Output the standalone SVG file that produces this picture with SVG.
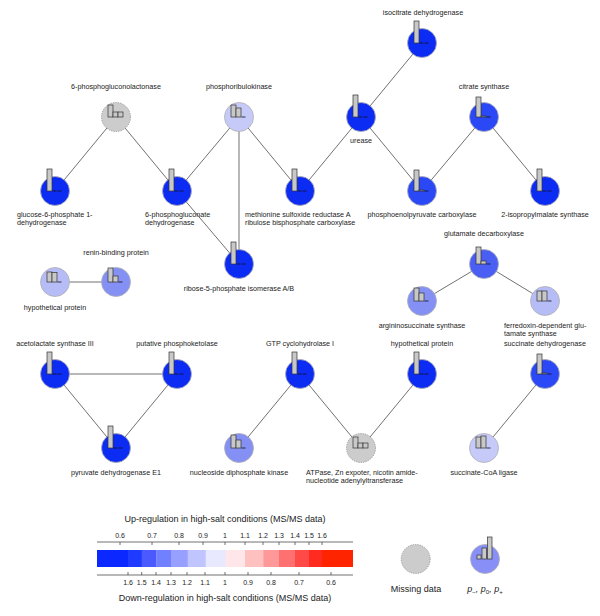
<svg xmlns="http://www.w3.org/2000/svg" width="600" height="616" viewBox="0 0 600 616">
<style>
text{font-family:"Liberation Sans",Arial,sans-serif;fill:#222}
.lb{font-size:7.2px}
.c{text-anchor:middle}
.edge{stroke:#333;stroke-width:0.7;fill:none}
.nd{stroke:#b0b0b0;stroke-width:0.8}
.deep{fill:#0c2cf4}
.d2{fill:#2a48f6}
.d3{fill:#4a5ef4}
.med{fill:#8590f5}
.lt{fill:#c6caf8}
.lt2{fill:#b6bcf6}
.miss{fill:#cccccc;stroke:#8a8a8a;stroke-width:0.8;stroke-dasharray:1.2 1.2}
.bar{fill:#c8c8c8;stroke:#333;stroke-width:0.7}
.z{stroke:#111;stroke-width:0.8}
.tick{stroke:#333;stroke-width:0.7}
.tl{font-size:7px;text-anchor:middle}
.lg{font-size:9px;text-anchor:middle}
</style>
<g id="connectors">
<line class="edge" x1="116" y1="117" x2="55" y2="191"/>
<line class="edge" x1="116" y1="117" x2="177" y2="191"/>
<line class="edge" x1="239" y1="117" x2="177" y2="191"/>
<line class="edge" x1="239" y1="117" x2="300" y2="191"/>
<line class="edge" x1="239" y1="117" x2="239" y2="264"/>
<line class="edge" x1="177" y1="191" x2="239" y2="264"/>
<line class="edge" x1="300" y1="191" x2="361" y2="117"/>
<line class="edge" x1="361" y1="117" x2="422" y2="43"/>
<line class="edge" x1="361" y1="117" x2="422" y2="191"/>
<line class="edge" x1="422" y1="191" x2="484" y2="117"/>
<line class="edge" x1="484" y1="117" x2="545" y2="191"/>
<line class="edge" x1="55" y1="282" x2="116" y2="282"/>
<line class="edge" x1="484" y1="264" x2="422" y2="301"/>
<line class="edge" x1="484" y1="264" x2="545" y2="301"/>
<line class="edge" x1="55" y1="374" x2="177" y2="374"/>
<line class="edge" x1="55" y1="374" x2="116" y2="448"/>
<line class="edge" x1="177" y1="374" x2="116" y2="448"/>
<line class="edge" x1="300" y1="374" x2="239" y2="448"/>
<line class="edge" x1="300" y1="374" x2="361" y2="448"/>
<line class="edge" x1="422" y1="374" x2="361" y2="448"/>
<line class="edge" x1="545" y1="374" x2="484" y2="448"/>
</g>

<g id="n_icd">
<circle class="nd deep" cx="422" cy="43" r="14.5"/>
<rect class="bar" x="414" y="21" width="5" height="22"/>
<line class="z" x1="419.5" y1="43" x2="423.5" y2="43"/><line class="z" x1="424.5" y1="43" x2="428.5" y2="43"/>
<text class="lb c" x="423" y="14.5">isocitrate dehydrogenase</text>
</g>

<g id="n_6pgl">
<circle class="miss" cx="116" cy="117" r="14.5"/>
<rect class="bar" x="108" y="105" width="5" height="12"/>
<rect class="bar" x="113" y="112" width="5" height="5"/>
<rect class="bar" x="118" y="112" width="5" height="5"/>
<text class="lb c" x="116" y="88.5">6-phosphogluconolactonase</text>
</g>

<g id="n_prk">
<circle class="nd lt" cx="239" cy="117" r="14.5"/>
<rect class="bar" x="231" y="105" width="5" height="12"/>
<rect class="bar" x="236" y="108" width="5" height="9"/>
<line class="z" x1="241.5" y1="117" x2="245.5" y2="117"/>
<text class="lb c" x="239" y="88.5">phosphoribulokinase</text>
</g>

<g id="n_urease">
<circle class="nd deep" cx="361" cy="117" r="14.5"/>
<rect class="bar" x="353" y="95" width="5" height="22"/>
<line class="z" x1="358.5" y1="117" x2="362.5" y2="117"/><line class="z" x1="363.5" y1="117" x2="367.5" y2="117"/>
<text class="lb c" x="361" y="142.5">urease</text>
</g>

<g id="n_cs">
<circle class="nd d2" cx="484" cy="117" r="14.5"/>
<rect class="bar" x="476" y="97" width="5" height="20"/>
<rect class="bar" x="481" y="116" width="5" height="1"/>
<line class="z" x1="486.5" y1="117" x2="490.5" y2="117"/>
<text class="lb c" x="484" y="88.5">citrate synthase</text>
</g>

<g id="n_g6pd">
<circle class="nd deep" cx="55" cy="191" r="14.5"/>
<rect class="bar" x="47" y="169" width="5" height="22"/>
<line class="z" x1="52.5" y1="191" x2="56.5" y2="191"/><line class="z" x1="57.5" y1="191" x2="61.5" y2="191"/>
<text class="lb" x="17" y="216.5">glucose-6-phosphate 1-</text>
<text class="lb" x="17" y="224.5">dehydrogenase</text>
</g>

<g id="n_6pgd">
<circle class="nd deep" cx="177" cy="191" r="14.5"/>
<rect class="bar" x="169" y="169" width="5" height="22"/>
<line class="z" x1="174.5" y1="191" x2="178.5" y2="191"/><line class="z" x1="179.5" y1="191" x2="183.5" y2="191"/>
<text class="lb" x="145" y="216.5">6-phosphogluconate</text>
<text class="lb" x="145" y="224.5">dehydrogenase</text>
</g>

<g id="n_msra">
<circle class="nd deep" cx="300" cy="191" r="14.5"/>
<rect class="bar" x="292" y="169" width="5" height="22"/>
<line class="z" x1="297.5" y1="191" x2="301.5" y2="191"/><line class="z" x1="302.5" y1="191" x2="306.5" y2="191"/>
<text class="lb" x="245" y="216.5">methionine sulfoxide reductase A</text>
<text class="lb" x="245" y="224.5">ribulose bisphosphate carboxylase</text>
</g>

<g id="n_pepc">
<circle class="nd d2" cx="422" cy="191" r="14.5"/>
<rect class="bar" x="414" y="170" width="5" height="21"/>
<rect class="bar" x="419" y="190" width="5" height="1"/>
<line class="z" x1="424.5" y1="191" x2="428.5" y2="191"/>
<text class="lb c" x="422" y="216.5">phosphoenolpyruvate carboxylase</text>
</g>

<g id="n_2ipms">
<circle class="nd deep" cx="545" cy="191" r="14.5"/>
<rect class="bar" x="537" y="169" width="5" height="22"/>
<line class="z" x1="542.5" y1="191" x2="546.5" y2="191"/><line class="z" x1="547.5" y1="191" x2="551.5" y2="191"/>
<text class="lb c" x="545" y="216.5">2-isopropylmalate synthase</text>
</g>

<g id="n_gad">
<circle class="nd d3" cx="484" cy="264" r="14.5"/>
<rect class="bar" x="476" y="247" width="5" height="17"/>
<rect class="bar" x="481" y="261" width="5" height="3"/>
<line class="z" x1="486.5" y1="264" x2="490.5" y2="264"/>
<text class="lb c" x="484" y="235.5">glutamate decarboxylase</text>
</g>

<g id="n_r5pi">
<circle class="nd deep" cx="239" cy="264" r="14.5"/>
<rect class="bar" x="231" y="242" width="5" height="22"/>
<line class="z" x1="236.5" y1="264" x2="240.5" y2="264"/><line class="z" x1="241.5" y1="264" x2="245.5" y2="264"/>
<text class="lb c" x="239" y="290.5">ribose-5-phosphate isomerase A/B</text>
</g>

<g id="n_hyp1">
<circle class="nd lt2" cx="55" cy="282" r="14.5"/>
<rect class="bar" x="47" y="272" width="5" height="10"/>
<rect class="bar" x="52" y="272.5" width="5" height="9.5"/>
<line class="z" x1="57.5" y1="282" x2="61.5" y2="282"/>
<text class="lb c" x="55" y="309.5">hypothetical protein</text>
</g>

<g id="n_renin">
<circle class="nd med" cx="116" cy="282" r="14.5"/>
<rect class="bar" x="108" y="268" width="5" height="14"/>
<rect class="bar" x="113" y="276" width="5" height="6"/>
<line class="z" x1="118.5" y1="282" x2="122.5" y2="282"/>
<text class="lb c" x="116" y="254.5">renin-binding protein</text>
</g>

<g id="n_ass">
<circle class="nd med" cx="422" cy="301" r="14.5"/>
<rect class="bar" x="414" y="288" width="5" height="13"/>
<rect class="bar" x="419" y="293" width="5" height="8"/>
<line class="z" x1="424.5" y1="301" x2="428.5" y2="301"/>
<text class="lb c" x="422" y="327.5">argininosuccinate synthase</text>
</g>

<g id="n_fd">
<circle class="nd lt2" cx="545" cy="301" r="14.5"/>
<rect class="bar" x="537" y="291" width="5" height="10"/>
<rect class="bar" x="542" y="291" width="5" height="10"/>
<line class="z" x1="547.5" y1="301" x2="551.5" y2="301"/>
<text class="lb" x="504" y="327.5">ferredoxin-dependent glu-</text>
<text class="lb" x="504" y="335.5">tamate synthase</text>
</g>

<g id="n_als">
<circle class="nd deep" cx="55" cy="374" r="14.5"/>
<rect class="bar" x="47" y="352" width="5" height="22"/>
<line class="z" x1="52.5" y1="374" x2="56.5" y2="374"/><line class="z" x1="57.5" y1="374" x2="61.5" y2="374"/>
<text class="lb c" x="55" y="345.5">acetolactate synthase III</text>
</g>

<g id="n_ppk">
<circle class="nd deep" cx="177" cy="374" r="14.5"/>
<rect class="bar" x="169" y="352" width="5" height="22"/>
<line class="z" x1="174.5" y1="374" x2="178.5" y2="374"/><line class="z" x1="179.5" y1="374" x2="183.5" y2="374"/>
<text class="lb c" x="177" y="345.5">putative phosphoketolase</text>
</g>

<g id="n_gtp">
<circle class="nd deep" cx="300" cy="374" r="14.5"/>
<rect class="bar" x="292" y="352" width="5" height="22"/>
<line class="z" x1="297.5" y1="374" x2="301.5" y2="374"/><line class="z" x1="302.5" y1="374" x2="306.5" y2="374"/>
<text class="lb c" x="300" y="345.5">GTP cyclohydrolase I</text>
</g>

<g id="n_hyp2">
<circle class="nd deep" cx="422" cy="374" r="14.5"/>
<rect class="bar" x="414" y="352" width="5" height="22"/>
<line class="z" x1="419.5" y1="374" x2="423.5" y2="374"/><line class="z" x1="424.5" y1="374" x2="428.5" y2="374"/>
<text class="lb c" x="422" y="345.5">hypothetical protein</text>
</g>

<g id="n_sdh">
<circle class="nd d2" cx="545" cy="374" r="14.5"/>
<rect class="bar" x="537" y="354" width="5" height="20"/>
<rect class="bar" x="542" y="373" width="5" height="1"/>
<line class="z" x1="547.5" y1="374" x2="551.5" y2="374"/>
<text class="lb" x="504" y="345.5">succinate dehydrogenase</text>
</g>

<g id="n_pdh">
<circle class="nd deep" cx="116" cy="448" r="14.5"/>
<rect class="bar" x="108" y="426" width="5" height="22"/>
<line class="z" x1="113.5" y1="448" x2="117.5" y2="448"/><line class="z" x1="118.5" y1="448" x2="122.5" y2="448"/>
<text class="lb c" x="116" y="474.5">pyruvate dehydrogenase E1</text>
</g>

<g id="n_ndk">
<circle class="nd med" cx="239" cy="448" r="14.5"/>
<rect class="bar" x="231" y="435" width="5" height="13"/>
<rect class="bar" x="236" y="440" width="5" height="8"/>
<line class="z" x1="241.5" y1="448" x2="245.5" y2="448"/>
<text class="lb c" x="239" y="474.5">nucleoside diphosphate kinase</text>
</g>

<g id="n_atp">
<circle class="miss" cx="361" cy="448" r="14.5"/>
<rect class="bar" x="353" y="437" width="5" height="11"/>
<rect class="bar" x="358" y="443" width="5" height="5"/>
<rect class="bar" x="363" y="443" width="5" height="5"/>
<text class="lb" x="306" y="474.5">ATPase, Zn expoter, nicotin amide-</text>
<text class="lb" x="306" y="482.5">nucleotide adenylyltransferase</text>
</g>

<g id="n_scl">
<circle class="nd lt" cx="484" cy="448" r="14.5"/>
<rect class="bar" x="476" y="437" width="5" height="11"/>
<rect class="bar" x="481" y="436" width="5" height="12"/>
<line class="z" x1="486.5" y1="448" x2="490.5" y2="448"/>
<text class="lb c" x="484" y="474.5">succinate-CoA ligase</text>
</g>

<g id="legend_scale">
<text class="lg" x="225" y="522">Up-regulation in high-salt conditions (MS/MS data)</text>
<line class="tick" x1="97" y1="542" x2="353" y2="542"/>
<g class="tick">
<line x1="120" y1="542" x2="120" y2="545"/><line x1="152" y1="542" x2="152" y2="545"/>
<line x1="179" y1="542" x2="179" y2="545"/><line x1="203" y1="542" x2="203" y2="545"/>
<line x1="225" y1="542" x2="225" y2="545"/><line x1="245" y1="542" x2="245" y2="545"/>
<line x1="263" y1="542" x2="263" y2="545"/><line x1="279" y1="542" x2="279" y2="545"/>
<line x1="295" y1="542" x2="295" y2="545"/><line x1="309" y1="542" x2="309" y2="545"/>
<line x1="322" y1="542" x2="322" y2="545"/>
</g>
<text class="tl" x="120" y="537.5">0.6</text><text class="tl" x="152" y="537.5">0.7</text>
<text class="tl" x="179" y="537.5">0.8</text><text class="tl" x="203" y="537.5">0.9</text>
<text class="tl" x="225" y="537.5">1</text><text class="tl" x="245" y="537.5">1.1</text>
<text class="tl" x="263" y="537.5">1.2</text><text class="tl" x="279" y="537.5">1.3</text>
<text class="tl" x="295" y="537.5">1.4</text><text class="tl" x="309" y="537.5">1.5</text>
<text class="tl" x="322" y="537.5">1.6</text>
<rect x="97" y="550" width="31.5" height="17" fill="#0a28ff"/>
<rect x="128" y="550" width="14" height="17" fill="#1f3bff"/>
<rect x="141.7" y="550" width="14.8" height="17" fill="#4a5aff"/>
<rect x="156.3" y="550" width="15" height="17" fill="#7080ff"/>
<rect x="171" y="550" width="17" height="17" fill="#98a0ff"/>
<rect x="187.7" y="550" width="18.3" height="17" fill="#c0c4ff"/>
<rect x="205.7" y="550" width="20.3" height="17" fill="#e8e9ff"/>
<rect x="225.7" y="550" width="19.6" height="17" fill="#ffe6e8"/>
<rect x="245" y="550" width="18.6" height="17" fill="#ffc0c0"/>
<rect x="263.3" y="550" width="16" height="17" fill="#ff9898"/>
<rect x="279" y="550" width="16.3" height="17" fill="#ff7070"/>
<rect x="295" y="550" width="14.3" height="17" fill="#ff4a48"/>
<rect x="309" y="550" width="13.3" height="17" fill="#ff2a20"/>
<rect x="322" y="550" width="31" height="17" fill="#ff2400"/>
<line class="tick" x1="97" y1="575" x2="353" y2="575"/>
<g class="tick">
<line x1="128" y1="572" x2="128" y2="575"/><line x1="141.7" y1="572" x2="141.7" y2="575"/>
<line x1="156" y1="572" x2="156" y2="575"/><line x1="171" y1="572" x2="171" y2="575"/>
<line x1="187" y1="572" x2="187" y2="575"/><line x1="205" y1="572" x2="205" y2="575"/>
<line x1="225" y1="572" x2="225" y2="575"/><line x1="248" y1="572" x2="248" y2="575"/>
<line x1="271" y1="572" x2="271" y2="575"/><line x1="299" y1="572" x2="299" y2="575"/>
<line x1="331" y1="572" x2="331" y2="575"/>
</g>
<text class="tl" x="128" y="584.5">1.6</text><text class="tl" x="141.7" y="584.5">1.5</text>
<text class="tl" x="156" y="584.5">1.4</text><text class="tl" x="171" y="584.5">1.3</text>
<text class="tl" x="187" y="584.5">1.2</text><text class="tl" x="205" y="584.5">1.1</text>
<text class="tl" x="225" y="584.5">1</text><text class="tl" x="248" y="584.5">0.9</text>
<text class="tl" x="271" y="584.5">0.8</text><text class="tl" x="299" y="584.5">0.7</text>
<text class="tl" x="331" y="584.5">0.6</text>
<text class="lg" x="225" y="601">Down-regulation in high-salt conditions (MS/MS data)</text>
</g>

<g id="legend_missing">
<circle class="miss" cx="415.7" cy="559" r="14.5"/>
<text class="lg" x="416" y="592">Missing data</text>
</g>

<g id="legend_p">
<circle class="nd" fill="#8890f8" cx="485" cy="559" r="14.5"/>
<rect class="bar" x="477" y="555" width="4" height="4"/>
<rect class="bar" x="482" y="548" width="4.5" height="11"/>
<rect class="bar" x="487.5" y="537" width="4.5" height="22"/>
<text class="lg" x="485" y="592" font-style="italic">p<tspan font-size="6" font-style="normal" dy="1.5">−</tspan><tspan dy="-1.5">, p</tspan><tspan font-size="6" font-style="normal" dy="1.5">0</tspan><tspan dy="-1.5">, p</tspan><tspan font-size="6" font-style="normal" dy="1.5">+</tspan></text>
</g>
</svg>
